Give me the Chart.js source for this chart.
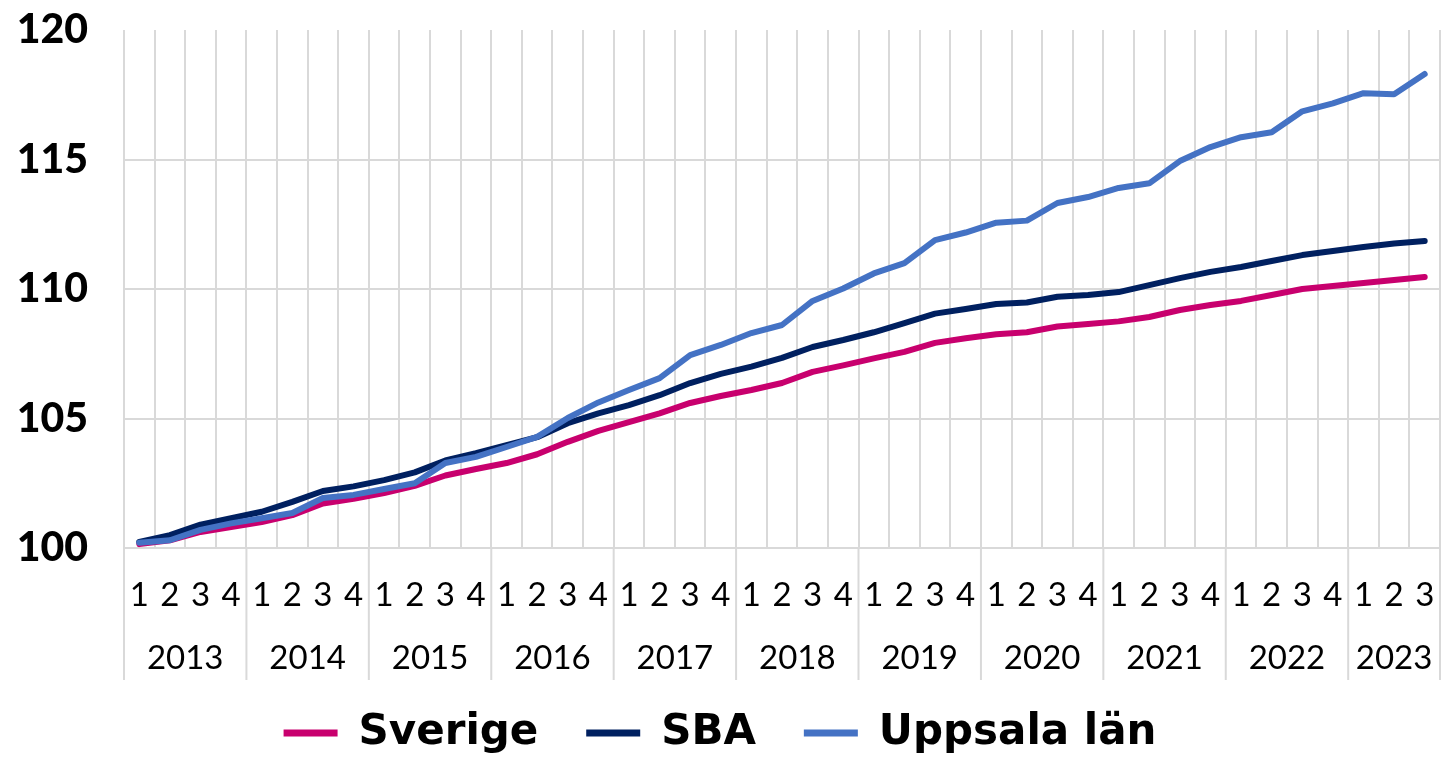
<!DOCTYPE html>
<html>
<head>
<meta charset="utf-8">
<script src="https://cdn.jsdelivr.net/npm/chart.js@4.4.1/dist/chart.umd.min.js"></script>
<style>
  html, body { margin: 0; padding: 0; background: #fff; }
  #wrap { width: 1443px; height: 758px; }
</style>
</head>
<body>
<div id="wrap"><canvas id="chart" width="1443" height="758"></canvas></div>
<script>
// quarter labels, one per point (2013 Q1 .. 2023 Q3)
const quarterLabels = [
  '1','2','3','4', '1','2','3','4', '1','2','3','4', '1','2','3','4',
  '1','2','3','4', '1','2','3','4', '1','2','3','4', '1','2','3','4',
  '1','2','3','4', '1','2','3','4', '1','2','3'
];
const years = ['2013','2014','2015','2016','2017','2018','2019','2020','2021','2022','2023'];
const quartersPerYear = [4,4,4,4,4,4,4,4,4,4,3];

const sverige = [
  100.15, 100.3, 100.62, 100.81, 101.0, 101.27, 101.72, 101.9,
  102.12, 102.4, 102.8, 103.05, 103.28, 103.62, 104.1, 104.52,
  104.86, 105.2, 105.6, 105.87, 106.1, 106.37, 106.8, 107.05,
  107.32, 107.57, 107.92, 108.1, 108.25, 108.33, 108.55, 108.65,
  108.75, 108.92, 109.19, 109.38, 109.54, 109.77, 110.0, 110.12,
  110.23, 110.35, 110.46
];
const sba = [
  100.23, 100.5, 100.9, 101.15, 101.4, 101.78, 102.2, 102.38,
  102.62, 102.92, 103.38, 103.66, 103.97, 104.28, 104.82, 105.2,
  105.52, 105.9, 106.37, 106.72, 107.0, 107.34, 107.76, 108.03,
  108.33, 108.68, 109.05, 109.23, 109.42, 109.48, 109.7, 109.77,
  109.88, 110.15, 110.42, 110.66, 110.85, 111.08, 111.31, 111.47,
  111.62, 111.76, 111.85
];
const uppsala = [
  100.2, 100.3, 100.7, 100.95, 101.15, 101.35, 101.93, 102.05,
  102.28, 102.5, 103.28, 103.52, 103.9, 104.29, 105.02, 105.62,
  106.1, 106.56, 107.45, 107.84, 108.3, 108.61, 109.54, 110.02,
  110.6, 111.0, 111.89, 112.18, 112.56, 112.64, 113.32, 113.55,
  113.9, 114.08, 114.94, 115.48, 115.86, 116.05, 116.86, 117.17,
  117.56, 117.52, 118.3
];

const gridColor = '#d9d9d9';
const labelFont = 'Lato, "DejaVu Sans", sans-serif';

// year row under the quarter numbers, with separators between years
const yearAxis = {
  id: 'yearAxis',
  afterLayout(chart) {
    // nudge the legend a little lower, like the original
    chart.legend.top += 6;
    chart.legend.bottom += 6;
  },
  afterDraw(chart) {
    const x = chart.scales.x;
    const area = chart.chartArea;
    const ctx = chart.ctx;
    const step = x.width / quarterLabels.length;
    const lineEnd = area.bottom + 132;
    ctx.save();
    ctx.strokeStyle = gridColor;
    ctx.lineWidth = 2;
    ctx.fillStyle = '#000';
    ctx.font = '33px ' + labelFont;
    ctx.textAlign = 'center';
    ctx.textBaseline = 'middle';
    let start = 0;
    years.forEach((yr, k) => {
      const end = start + quartersPerYear[k] - 1;
      const left = x.getPixelForValue(start) - step / 2;
      ctx.beginPath();
      ctx.moveTo(left, area.bottom);
      ctx.lineTo(left, lineEnd);
      ctx.stroke();
      const mid = (x.getPixelForValue(start) + x.getPixelForValue(end)) / 2;
      ctx.fillText(yr, mid, area.bottom + 110);
      start = end + 1;
    });
    const right = x.getPixelForValue(start - 1) + step / 2;
    ctx.beginPath();
    ctx.moveTo(right, area.bottom);
    ctx.lineTo(right, lineEnd);
    ctx.stroke();
    ctx.restore();
  }
};

const ctx = document.getElementById('chart').getContext('2d');
new Chart(ctx, {
  type: 'line',
  data: {
    labels: quarterLabels,
    datasets: [
      { label: 'Sverige', data: sverige, borderColor: '#c8006e', backgroundColor: '#c8006e', order: 3 },
      { label: 'SBA', data: sba, borderColor: '#002060', backgroundColor: '#002060', order: 2 },
      { label: 'Uppsala län', data: uppsala, borderColor: '#4472c4', backgroundColor: '#4472c4', order: 1 }
    ]
  },
  options: {
    responsive: false,
    animation: false,
    layout: { padding: { top: 30, right: 3, left: 0, bottom: 0 } },
    elements: {
      line: { borderWidth: 6, tension: 0, borderCapStyle: 'round', borderJoinStyle: 'round' },
      point: { radius: 0 }
    },
    scales: {
      x: {
        offset: true,
        grid: { offset: true, color: gridColor, lineWidth: 2, drawTicks: false },
        border: { display: false },
        ticks: {
          autoSkip: false, maxRotation: 0, padding: 28,
          color: '#000', font: { family: labelFont, size: 33 }
        },
        afterFit(scale) {
          scale.height = 154;
          scale.paddingLeft = 0;
          scale.paddingRight = 0;
        }
      },
      y: {
        min: 100, max: 120,
        grid: {
          color: c => c.tick && c.tick.value === 120 ? 'rgba(0,0,0,0)' : gridColor,
          lineWidth: 2, drawTicks: false
        },
        border: { display: false },
        ticks: {
          stepSize: 5, padding: 36,
          color: '#000', font: { family: labelFont, size: 41, weight: 900, lineHeight: 1 }
        },
        afterFit(scale) {
          scale.width = 124;
          scale.paddingTop = 0;
          scale.paddingBottom = 0;
        }
      }
    },
    plugins: {
      tooltip: { enabled: false },
      legend: {
        position: 'bottom',
        labels: {
          boxWidth: 54, boxHeight: 7, padding: 4,
          color: '#000', font: { family: '"DejaVu Sans", sans-serif', size: 42, weight: 'bold' },
          sort: (a, b) => a.datasetIndex - b.datasetIndex,
          generateLabels(chart) {
            const items = Chart.defaults.plugins.legend.labels.generateLabels(chart);
            return items.map(l => {
              l.lineWidth = 0;
              if (l.datasetIndex !== 2) l.text = l.text + '   ';
              return l;
            });
          }
        }
      }
    }
  },
  plugins: [yearAxis]
});
</script>
</body>
</html>
